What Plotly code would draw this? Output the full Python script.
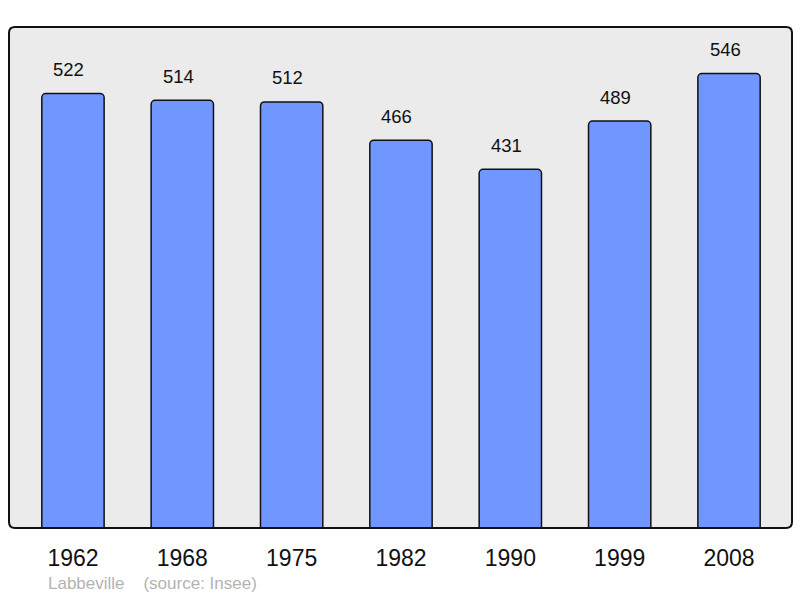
import plotly.graph_objects as go

years = ["1962", "1968", "1975", "1982", "1990", "1999", "2008"]
population = [522, 514, 512, 466, 431, 489, 546]
source_text = "Labbeville    (source: Insee)"

W, H = 800, 598
L, R, T, B = 9, 8, 27, 70
pw, ph = W - L - R, H - T - B

fig = go.Figure()
fig.add_trace(go.Bar(
    x=list(range(len(years))), y=population, width=0.57,
    marker=dict(color="#7096ff", line=dict(color="#111111", width=1.5)),
    hoverinfo="skip",
))

for i, v in enumerate(population):
    fig.add_annotation(x=i, y=v, text=str(v), showarrow=False, yshift=24, xshift=-4,
                       font=dict(family="Liberation Sans, Arial", size=18.5, color="#111111"))

fig.add_annotation(xref="paper", yref="paper", x=(46 - L) / pw, y=(H - B - 583) / ph,
                   xanchor="left", yanchor="middle", text=source_text, showarrow=False,
                   font=dict(family="Liberation Sans, Arial", size=17, color="#b3b3b3"))

# rounded frame
rx, ry = 6 / pw, 6 / ph
path = (f"M {rx},0 L {1-rx},0 Q 1,0 1,{ry} L 1,{1-ry} Q 1,1 {1-rx},1 "
        f"L {rx},1 Q 0,1 0,{1-ry} L 0,{ry} Q 0,0 {rx},0 Z")
fig.add_shape(type="path", xref="paper", yref="paper", path=path,
              line=dict(color="#111111", width=2), layer="above")

fig.update_layout(
    width=W, height=H, margin=dict(l=L, r=R, t=T, b=B),
    paper_bgcolor="white", plot_bgcolor="#ebebeb",
    showlegend=False, barcornerradius=4,
    xaxis=dict(range=[-0.585, 6.576], showgrid=False, zeroline=False,
               tickmode="array", tickvals=list(range(len(years))), ticktext=years,
               showline=False, ticks="outside", ticklen=9, tickcolor="rgba(0,0,0,0)",
               tickfont=dict(family="Liberation Sans, Arial", size=23, color="#111111")),
    yaxis=dict(range=[0, 602], showgrid=False, zeroline=False, showticklabels=False,
               showline=False),
)

fig.write_html("out.html", config={"displayModeBar": False})
with open("out.html", encoding="utf-8") as f:
    html = f.read()
html = html.replace("<head>", "<head><style>html,body{margin:0;padding:0;overflow:hidden}</style>", 1)
with open("out.html", "w", encoding="utf-8") as f:
    f.write(html)
